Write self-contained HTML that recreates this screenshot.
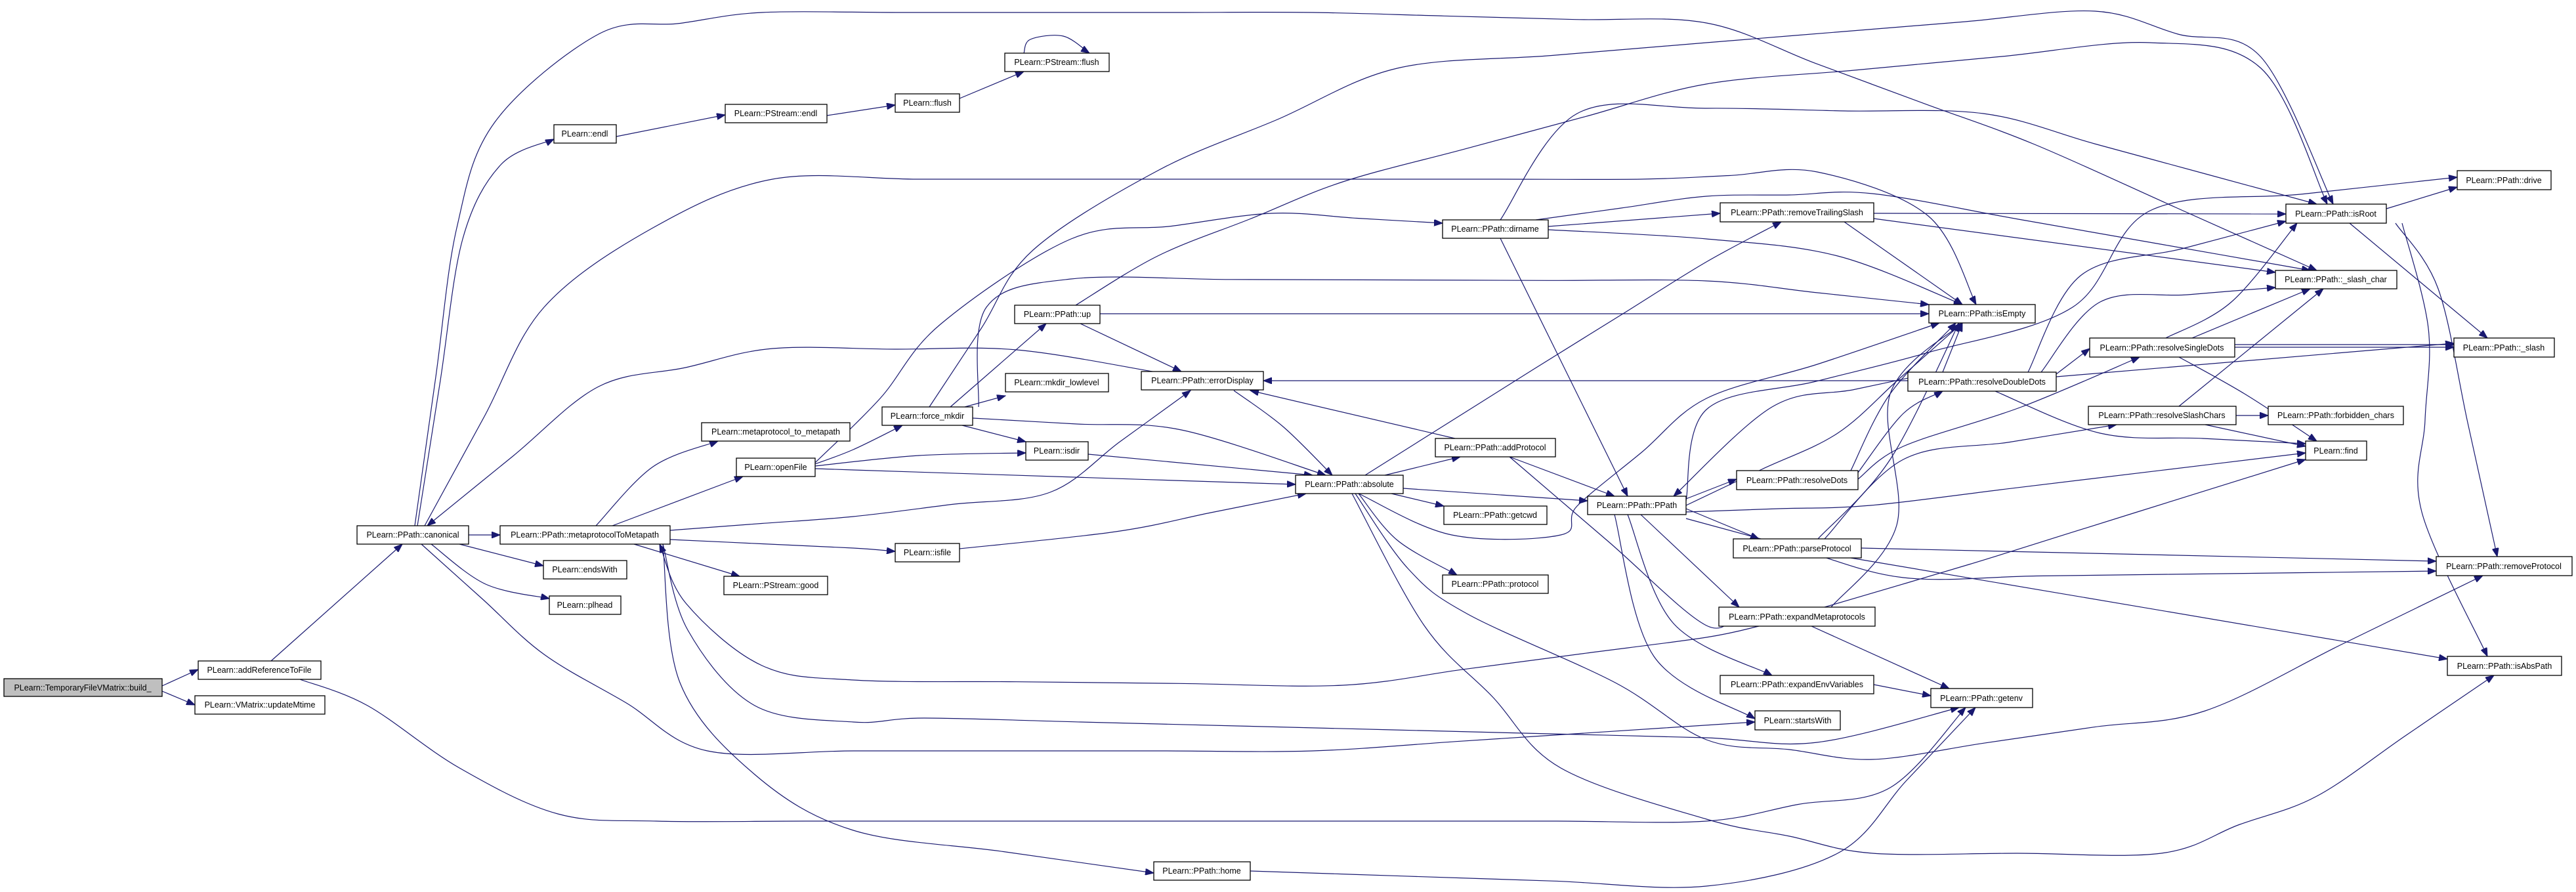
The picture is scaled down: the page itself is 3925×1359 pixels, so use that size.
<!DOCTYPE html>
<html><head><meta charset="utf-8">
<style>
html,body{margin:0;padding:0;background:#fff;}
svg{display:block;}
text{font-family:"Liberation Sans",Helvetica,Arial,sans-serif;font-size:12.5px;fill:#000;}
</style></head><body>
<svg id="s" width="3925" height="1359" viewBox="0 0 3925 1359" xmlns="http://www.w3.org/2000/svg">
<defs>
<marker id="a" markerUnits="userSpaceOnUse" markerWidth="14" markerHeight="10" refX="13" refY="5" orient="auto">
<path d="M0,0 L13,5 L0,10 Z" fill="#191970" stroke="#191970"/>
</marker>
</defs>
<g id="edges" fill="none" stroke="#191970" stroke-width="1.2"></g>
<g id="nodes" stroke="#000" stroke-width="1.3">
<rect x="6" y="1034" width="241" height="27" fill="#bfbfbf"/>
<rect x="302" y="1007" width="187" height="28" fill="#fff"/>
<rect x="297" y="1060" width="198" height="28" fill="#fff"/>
<rect x="544" y="801" width="170" height="28" fill="#fff"/>
<rect x="762" y="801" width="259" height="28" fill="#fff"/>
<rect x="844" y="190" width="95" height="28" fill="#fff"/>
<rect x="1105" y="159" width="155" height="28" fill="#fff"/>
<rect x="1069" y="644" width="226" height="28" fill="#fff"/>
<rect x="1122" y="698" width="120" height="28" fill="#fff"/>
<rect x="828" y="854" width="127" height="28" fill="#fff"/>
<rect x="837" y="908" width="109" height="28" fill="#fff"/>
<rect x="1103" y="878" width="158" height="28" fill="#fff"/>
<rect x="1364" y="143" width="98" height="28" fill="#fff"/>
<rect x="1531" y="81" width="159" height="28" fill="#fff"/>
<rect x="2198" y="335" width="161" height="28" fill="#fff"/>
<rect x="1546" y="465" width="130" height="28" fill="#fff"/>
<rect x="1739" y="566" width="186" height="28" fill="#fff"/>
<rect x="1532" y="569" width="157" height="28" fill="#fff"/>
<rect x="1344" y="620" width="138" height="28" fill="#fff"/>
<rect x="1563" y="673" width="95" height="28" fill="#fff"/>
<rect x="1974" y="724" width="164" height="28" fill="#fff"/>
<rect x="2187" y="668" width="183" height="28" fill="#fff"/>
<rect x="2419" y="756" width="150" height="28" fill="#fff"/>
<rect x="2200" y="771" width="157" height="28" fill="#fff"/>
<rect x="1364" y="828" width="98" height="28" fill="#fff"/>
<rect x="2198" y="876" width="161" height="28" fill="#fff"/>
<rect x="1758" y="1313" width="147" height="28" fill="#fff"/>
<rect x="2621" y="309" width="234" height="29" fill="#fff"/>
<rect x="2939" y="464" width="162" height="28" fill="#fff"/>
<rect x="3483" y="311" width="153" height="29" fill="#fff"/>
<rect x="3744" y="260" width="143" height="29" fill="#fff"/>
<rect x="3467" y="412" width="185" height="28" fill="#fff"/>
<rect x="3184" y="515" width="221" height="29" fill="#fff"/>
<rect x="3739" y="515" width="153" height="29" fill="#fff"/>
<rect x="2907" y="567" width="226" height="29" fill="#fff"/>
<rect x="3182" y="619" width="225" height="28" fill="#fff"/>
<rect x="3456" y="619" width="206" height="28" fill="#fff"/>
<rect x="3513" y="672" width="93" height="29" fill="#fff"/>
<rect x="2646" y="717" width="185" height="29" fill="#fff"/>
<rect x="2641" y="821" width="195" height="29" fill="#fff"/>
<rect x="3712" y="848" width="207" height="29" fill="#fff"/>
<rect x="2619" y="925" width="238" height="29" fill="#fff"/>
<rect x="3729" y="1000" width="174" height="29" fill="#fff"/>
<rect x="2621" y="1029" width="234" height="28" fill="#fff"/>
<rect x="2942" y="1049" width="155" height="29" fill="#fff"/>
<rect x="2674" y="1083" width="130" height="29" fill="#fff"/>
</g>
<g text-anchor="middle">
<text x="126" y="1052">PLearn::TemporaryFileVMatrix::build_</text>
<text x="395" y="1025">PLearn::addReferenceToFile</text>
<text x="396" y="1078">PLearn::VMatrix::updateMtime</text>
<text x="629" y="819">PLearn::PPath::canonical</text>
<text x="891" y="819">PLearn::PPath::metaprotocolToMetapath</text>
<text x="891" y="208">PLearn::endl</text>
<text x="1182" y="177">PLearn::PStream::endl</text>
<text x="1182" y="662">PLearn::metaprotocol_to_metapath</text>
<text x="1182" y="716">PLearn::openFile</text>
<text x="891" y="872">PLearn::endsWith</text>
<text x="891" y="926">PLearn::plhead</text>
<text x="1182" y="896">PLearn::PStream::good</text>
<text x="1413" y="161">PLearn::flush</text>
<text x="1610" y="99">PLearn::PStream::flush</text>
<text x="2278" y="353">PLearn::PPath::dirname</text>
<text x="1611" y="483">PLearn::PPath::up</text>
<text x="1832" y="584">PLearn::PPath::errorDisplay</text>
<text x="1610" y="587">PLearn::mkdir_lowlevel</text>
<text x="1413" y="638">PLearn::force_mkdir</text>
<text x="1610" y="691">PLearn::isdir</text>
<text x="2056" y="742">PLearn::PPath::absolute</text>
<text x="2278" y="686">PLearn::PPath::addProtocol</text>
<text x="2494" y="774">PLearn::PPath::PPath</text>
<text x="2278" y="789">PLearn::PPath::getcwd</text>
<text x="1413" y="846">PLearn::isfile</text>
<text x="2278" y="894">PLearn::PPath::protocol</text>
<text x="1831" y="1331">PLearn::PPath::home</text>
<text x="2738" y="328">PLearn::PPath::removeTrailingSlash</text>
<text x="3020" y="482">PLearn::PPath::isEmpty</text>
<text x="3559" y="330">PLearn::PPath::isRoot</text>
<text x="3815" y="279">PLearn::PPath::drive</text>
<text x="3559" y="430">PLearn::PPath::_slash_char</text>
<text x="3294" y="534">PLearn::PPath::resolveSingleDots</text>
<text x="3815" y="534">PLearn::PPath::_slash</text>
<text x="3020" y="586">PLearn::PPath::resolveDoubleDots</text>
<text x="3294" y="637">PLearn::PPath::resolveSlashChars</text>
<text x="3559" y="637">PLearn::PPath::forbidden_chars</text>
<text x="3559" y="691">PLearn::find</text>
<text x="2738" y="736">PLearn::PPath::resolveDots</text>
<text x="2738" y="840">PLearn::PPath::parseProtocol</text>
<text x="3815" y="867">PLearn::PPath::removeProtocol</text>
<text x="2738" y="944">PLearn::PPath::expandMetaprotocols</text>
<text x="3816" y="1019">PLearn::PPath::isAbsPath</text>
<text x="2738" y="1047">PLearn::PPath::expandEnvVariables</text>
<text x="3019" y="1068">PLearn::PPath::getenv</text>
<text x="2739" y="1102">PLearn::startsWith</text>
</g>
</svg>
<script>
var E=[
[247,1045,302,1020],[247,1053,297,1074],
[413,1007,613,829],
[457,1035,560,1075,700,1170,850,1240,1000,1251,2600,1251,2880,1200,2995,1078],
[714,815,762,815],[700,829,828,862],[657,829,740,890,837,912],
[636,801,705,364,763,251,844,212],
[632,801,696,347,754,186,912,52,1161,19,2000,19,2600,35,3100,220,3530,412],
[647,801,829,468,995,347,1177,273,2500,273,2769,262,2938,329,3011,464],
[1756,566,1549,533,1177,531,912,589,651,801],
[642,829,829,997,1078,1144,1300,1144,2000,1144,2674,1100],
[939,208,1105,175],[1260,176,1364,160],[1462,150,1560,109],
[1560,81,1570,60,1620,55,1660,81],
[908,801,995,711,1094,672],[933,801,1132,726],
[1021,808,1300,787,1600,750,1814,595],
[1021,822,1300,835,1364,840],
[966,829,1127,878],
[1010,829,1036,1040,1150,1180,1300,1265,1758,1330],
[1010,829,1048,960,1150,1075,1300,1100,1408,1094,2600,1124,2769,1131,2985,1078],
[2680,954,2600,971,2046,1044,1300,1036,1161,1014,1045,919,1005,829],
[1242,705,1341,607,1433,494,1632,364,1938,325,2198,340],
[1242,707,1300,685,1375,648],[1242,710,1400,694,1563,690],[1242,714,1300,716,1974,738],
[1416,620,1574,381,1764,260,2129,104,2600,65,3192,17,3445,87,3555,311],
[1491,620,1503,468,1632,425,2600,428,2939,464],
[1448,620,1594,493],[1470,620,1532,603],[1466,648,1563,673],
[1482,637,1800,655,2020,724],
[1639,465,1764,390,2046,277,2600,128,3276,65,3445,104,3546,311],
[1676,478,2939,478],[1646,493,1800,566],
[1880,595,1955,650,2030,724],
[2217,668,1905,595],[2907,580,1925,580],
[1658,692,2000,724],[1462,836,1700,810,1990,752],
[2110,724,2225,696],[2138,744,2419,763],[2120,752,2200,771],
[2070,752,2129,823,2220,876],
[2080,724,2336,563,2600,399,2714,338],
[2070,752,2212,815,2378,815,2403,771,2600,607,2769,555,2955,492],
[2065,752,2146,867,2237,936,2461,1040,2600,1127,2853,1157,3360,1083,3783,877],
[2060,752,2170,953,2378,1170,2600,1248,2853,1300,3293,1300,3530,1213,3800,1029],
[2300,696,2460,756],[2300,696,2600,953,2651,925],
[2286,363,2480,756],[2359,345,2621,325],
[2359,350,2600,364,2800,390,2990,464],
[2340,335,2600,299,2853,295,3520,412],
[2286,335,2403,173,2600,165,3022,173,3530,311],
[2855,325,3483,326],[2810,338,2990,464],[2855,333,3467,415],
[3636,318,3744,285],[3580,340,3790,515],
[3650,340,3715,440,3805,848],
[3660,340,3700,500,3690,780,3790,1000],
[2569,763,2600,624,2938,537,3158,468,3276,321,3744,270],
[3090,567,3170,420,3483,337],[3110,567,3200,460,3467,438],
[3133,570,3184,531],[3133,574,3739,523],
[3040,596,3200,660,3513,676],
[2960,567,2990,492],[2950,567,2700,620,2550,756],
[3300,515,3400,460,3500,340],[3340,515,3520,440],
[3405,525,3739,525],[3405,529,3739,529],
[3320,544,3420,600,3530,672],
[3320,619,3540,440],[3407,633,3456,633],[3360,647,3513,680],
[2831,720,2900,630,2960,596],[2820,717,2880,600,2980,492],
[2831,730,2900,680,3080,620,3260,544],
[2770,821,2880,700,2985,492],[2780,821,2900,700,3225,647],
[2836,835,3712,855],[2820,850,3729,1004],
[2569,760,2646,730],[2569,775,2680,821],[2500,784,2650,925],
[2480,784,2550,950,2700,1029],[2460,784,2520,1000,2674,1095],
[2569,770,2800,660,2990,492],[2569,780,2850,770,3513,690],
[2569,790,2900,880,3712,870],
[2780,925,3000,860,3513,700],[2790,925,2890,800,2880,600,2990,492],
[2760,954,2970,1049],[2855,1043,2942,1060],
[1905,1327,2600,1350,2800,1300,3010,1078]
];
function path(p){
 var raw=[];for(var i=0;i<p.length;i+=2)raw.push([p[i],p[i+1]]);
 var d="M"+raw[0][0]+","+raw[0][1];
 if(raw.length==2){d+=" L"+raw[1][0]+","+raw[1][1];return d;}
 var pts=[raw[0]];
 for(var i=1;i<raw.length;i++){
  var a=raw[i-1],b=raw[i],L=Math.hypot(b[0]-a[0],b[1]-a[1]),n=Math.ceil(L/250);
  for(var k=1;k<=n;k++)pts.push([a[0]+(b[0]-a[0])*k/n,a[1]+(b[1]-a[1])*k/n]);
 }
 for(var i=0;i<pts.length-1;i++){
  var p0=pts[i-1]||pts[i],p1=pts[i],p2=pts[i+1],p3=pts[i+2]||p2;
  var c1=[p1[0]+(p2[0]-p0[0])/6,p1[1]+(p2[1]-p0[1])/6];
  var c2=[p2[0]-(p3[0]-p1[0])/6,p2[1]-(p3[1]-p1[1])/6];
  d+=" C"+c1[0].toFixed(1)+","+c1[1].toFixed(1)+" "+c2[0].toFixed(1)+","+c2[1].toFixed(1)+" "+p2[0].toFixed(1)+","+p2[1].toFixed(1);
 }
 return d;
}
var g=document.getElementById("edges"),ns="http://www.w3.org/2000/svg";
E.forEach(function(e){var el=document.createElementNS(ns,"path");el.setAttribute("d",path(e));el.setAttribute("marker-end","url(#a)");g.appendChild(el);});
</script>
</body></html>
